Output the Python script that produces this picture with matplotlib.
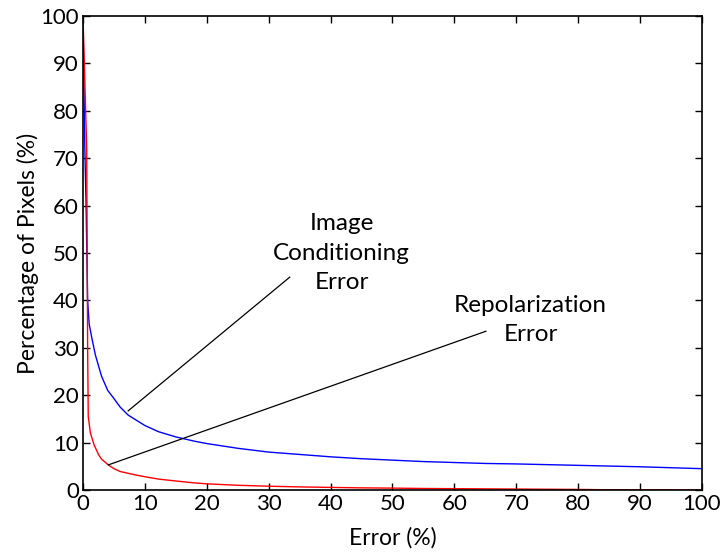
import matplotlib
matplotlib.use("Agg")
import matplotlib.pyplot as plt

plt.rcParams['font.family'] = ['Lato', 'DejaVu Sans']

# Image conditioning error (blue)
blue_x = [0, 0.3, 0.5, 0.75, 1.0, 1.5, 2, 3, 4, 5, 6, 7.3, 10, 12.2, 15, 18, 20, 25, 30, 35,
          40, 45, 50, 55, 60, 65, 70, 75, 80, 85, 90, 95, 100]
blue_y = [100, 72, 60, 40, 35, 31.6, 28.5, 24, 21, 19.3, 17.5, 15.8, 13.6, 12.3, 11.2, 10.3, 9.8,
          8.8, 8.0, 7.5, 7.0, 6.6, 6.3, 6.0, 5.8, 5.6, 5.5, 5.35, 5.2, 5.05, 4.9, 4.7, 4.5]

# Repolarization error (red)
red_x = [0, 0.6, 0.75, 0.85, 1.2, 1.8, 2.5, 3, 4.1, 5, 6, 8.4, 10, 12.2, 15, 18, 20, 25, 30,
         35, 40, 45, 50, 55, 60, 70, 80, 85, 90, 100]
red_y = [100, 72, 30, 15.5, 12, 9.5, 7.5, 6.5, 5.3, 4.5, 3.9, 3.2, 2.8, 2.3, 1.9, 1.5, 1.3, 1.0,
         0.8, 0.65, 0.55, 0.45, 0.4, 0.32, 0.28, 0.2, 0.12, 0.05, 0.03, 0.0]

ticks = [0, 10, 20, 30, 40, 50, 60, 70, 80, 90, 100]

fig = plt.figure(figsize=(7.21, 5.56), dpi=100)
ax = fig.add_axes([0.1151, 0.1187, 0.8585, 0.8525])

ax.plot(blue_x, blue_y, color='#0000ff', lw=1.0)
ax.plot(red_x, red_y, color='#ff0000', lw=1.0)

ax.set_xlim(0, 100)
ax.set_ylim(0, 100)
ax.set_xticks(ticks)
ax.set_yticks(ticks)
ax.tick_params(direction='in', top=True, right=True, length=5, width=1.0,
               labelsize=16, pad=3)
for s in ax.spines.values():
    s.set_linewidth(1.2)

ax.set_xlabel('Error (%)', fontsize=16.5, labelpad=9)
ax.set_ylabel('Percentage of Pixels (%)', fontsize=16.5, labelpad=1)

# annotations
ax.plot([7.3, 33.4], [16.7, 44.9], color='black', lw=0.9)
ax.plot([4.1, 65.1], [5.3, 33.5], color='black', lw=0.9)
ax.text(41.8, 50.0, 'Image\nConditioning\nError', ha='center', va='center',
        fontsize=17.5, linespacing=1.5)
ax.text(72.3, 35.9, 'Repolarization\nError', ha='center', va='center',
        fontsize=17.5, linespacing=1.5)

fig.savefig('out.png', dpi=100)
